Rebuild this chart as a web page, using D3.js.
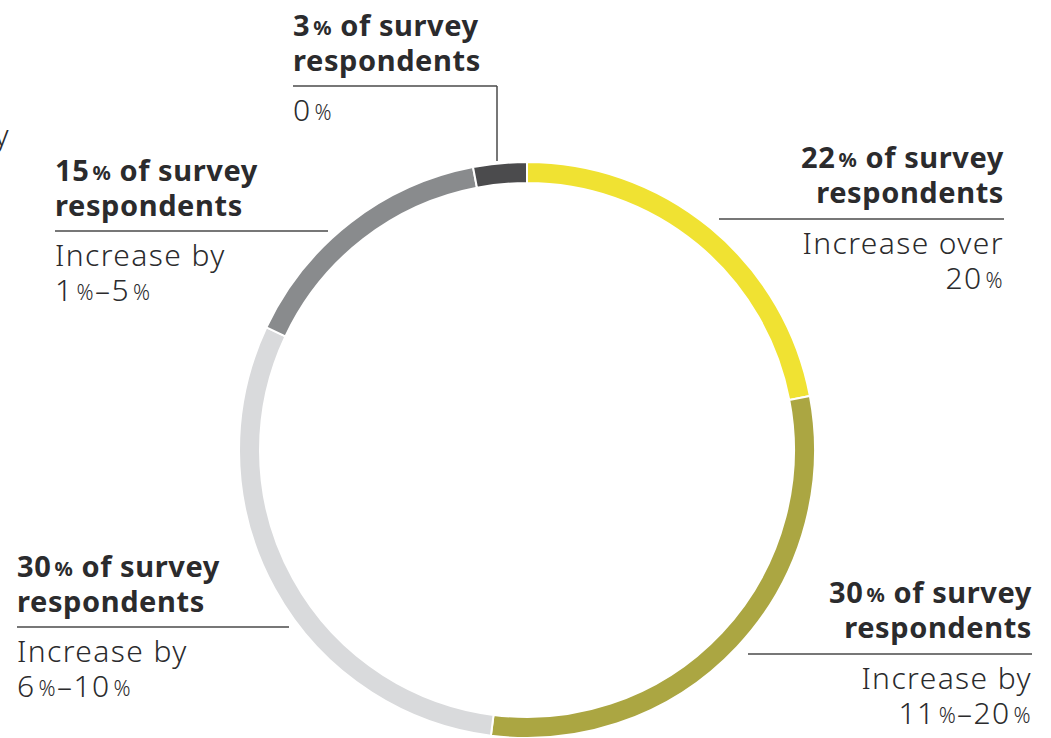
<!DOCTYPE html>
<html>
<head>
<meta charset="utf-8">
<script src="https://cdn.jsdelivr.net/npm/d3@7"></script>
<style>
  html, body { margin: 0; padding: 0; background: #fff; }
  svg { display: block; }
  .head { font-family: "Noto Sans", sans-serif; font-weight: 700; font-size: 29px; letter-spacing: 0.6px; fill: #2b2b2d; }
  .sub { font-family: "Noto Sans", sans-serif; font-weight: 300; font-size: 30px; letter-spacing: 1.4px; fill: #2b2b2d; }
</style>
</head>
<body>
<div id="chart"></div>
<script>
// slices, clockwise from 12 o'clock
var categories = ["Increase over 20%", "Increase by 11%–20%", "Increase by 6%–10%", "Increase by 1%–5%", "0%"];
var shares = [22, 30, 30, 15, 3];
var colors = ["#f0e232", "#aba642", "#d9dadc", "#898b8d", "#4b4b4d"];

// annotation text for each slice
var head_lines = [
    ["22% of survey", "respondents"],
    ["30% of survey", "respondents"],
    ["30% of survey", "respondents"],
    ["15% of survey", "respondents"],
    ["3% of survey", "respondents"]
];
var sub_lines = [
    ["Increase over", "20%"],
    ["Increase by", "11%–20%"],
    ["Increase by", "6%–10%"],
    ["Increase by", "1%–5%"],
    ["0%"]
];

var width = 1051, height = 738;
var cx = 527, cy = 450, outer_r = 288, inner_r = 267;

// where each annotation sits: x, anchor, first baseline, rule y, rule ends
var layout = [
    {x: 1004, anchor: "end",   y: 168, rule_y: 219, x1: 719, x2: 1004},
    {x: 1032, anchor: "end",   y: 603, rule_y: 654, x1: 748, x2: 1032},
    {x: 17,   anchor: "start", y: 577, rule_y: 627, x1: 17,  x2: 289},
    {x: 55,   anchor: "start", y: 181, rule_y: 231, x1: 55,  x2: 328},
    {x: 293,  anchor: "start", y: 36,  rule_y: 86,  x1: 293, x2: 497, drop: 161}
];

var svg = d3.select("#chart").append("svg")
    .attr("width", width)
    .attr("height", height);

var pie = d3.pie().sort(null).value(function(d){ return d; });
var arc = d3.arc().innerRadius(inner_r).outerRadius(outer_r);

svg.append("g")
    .attr("transform", "translate(" + cx + "," + cy + ")")
    .selectAll("path")
    .data(pie(shares))
    .enter()
    .append("path")
        .attr("d", arc)
        .attr("fill", function(d, i){ return colors[i]; })
        .attr("stroke", "#fff")
        .attr("stroke-width", 2);

// writes a line and shrinks the % signs like the original typeface
function write_line(sel, txt){
    var parts = txt.split("%");
    var lift = 0;
    parts.forEach(function(p, k){
        if (p.length) {
            sel.append("tspan").attr("dy", lift).text(p);
            lift = 0;
        }
        if (k < parts.length - 1) {
            sel.append("tspan").attr("font-size", "0.7em").attr("dx", 3).attr("dy", -1 - lift).text("%");
            lift = 1;
        }
    });
}

var line_gap = 35;

layout.forEach(function(L, i){
    var g = svg.append("g");
    head_lines[i].forEach(function(t, j){
        var el = g.append("text")
            .attr("class", "head")
            .attr("x", L.x)
            .attr("y", L.y + j * line_gap)
            .attr("text-anchor", L.anchor);
        write_line(el, t);
    });
    g.append("line")
        .attr("x1", L.x1).attr("x2", L.x2)
        .attr("y1", L.rule_y).attr("y2", L.rule_y)
        .attr("stroke", "#4a4a4a")
        .attr("stroke-width", 1.5);
    if (L.drop) {
        g.append("line")
            .attr("x1", L.x2).attr("x2", L.x2)
            .attr("y1", L.rule_y).attr("y2", L.drop)
            .attr("stroke", "#4a4a4a")
            .attr("stroke-width", 1.5);
    }
    sub_lines[i].forEach(function(t, j){
        var el = g.append("text")
            .attr("class", "sub")
            .attr("x", L.x)
            .attr("y", L.rule_y + 35 + j * line_gap)
            .attr("text-anchor", L.anchor);
        write_line(el, t);
    });
});

// cut-off fragment of a neighbouring label at the left edge
svg.append("text")
    .attr("class", "sub")
    .attr("x", 10)
    .attr("y", 146)
    .attr("text-anchor", "end")
    .text("by");
</script>
</body>
</html>
